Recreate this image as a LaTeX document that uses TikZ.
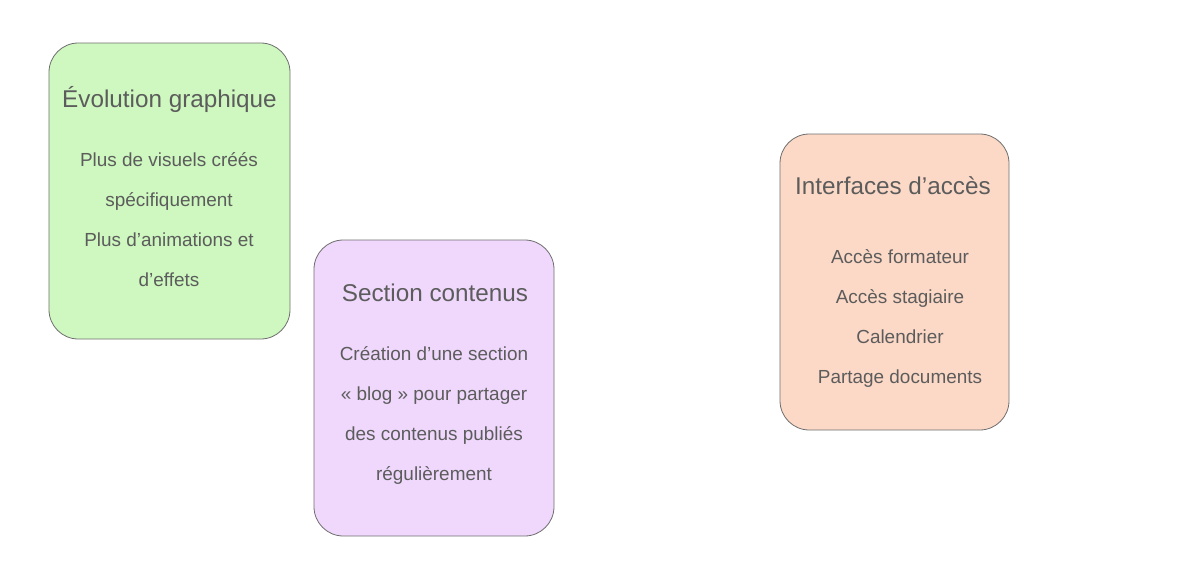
\documentclass[tikz,border=0pt]{standalone}
\usepackage{fontspec}
\setmainfont{Liberation Sans}
\usepackage{xcolor}
\usetikzlibrary{positioning}

\definecolor{textgray}{HTML}{5C5C5C}
\definecolor{edgegray}{HTML}{6E6E6E}
\definecolor{greenfill}{HTML}{CEF8BF}
\definecolor{purplefill}{HTML}{EFD8FC}
\definecolor{orangefill}{HTML}{FCD9C6}

\begin{document}
\begin{tikzpicture}[
          x=0.75pt, y=-0.75pt,
          card/.style={draw=edgegray, line width=0.6pt, rounded corners=22pt,
                       minimum height=222pt, inner sep=0pt},
          title/.style={anchor=base, text=textgray, font=\fontsize{18.2}{21}\selectfont, inner sep=0pt},
          item/.style={anchor=base, text=textgray, font=\fontsize{14.2}{17}\selectfont, inner sep=0pt}
        ]
          \useasboundingbox (0,0) rectangle (1200,565);
          % boxes
          \node[card, fill=greenfill, minimum width=180.75pt] (graph) at (169.5,191) {};
          \node[card, fill=purplefill, minimum width=180pt] (contenus) at (434,388) {};
          \node[card, fill=orangefill, minimum width=171.75pt] (acces) at (894.5,282) {};
          % titles
          \node[title] (graphT) at (169.5,107) {Évolution graphique};
          \node[title] (contenusT) at (435,301) {Section contenus};
          \node[title] (accesT) at (893,194) {Interfaces d’accès};
          % items
          \foreach \t [count=\i] in {{Plus de visuels créés}, {spécifiquement},
              {Plus d’animations et}, {d’effets}}
            \node[item] (graph\i) at (169,126+40*\i) {\t};
          \foreach \t [count=\i] in {{Création d’une section}, {« blog » pour partager},
              {des contenus publiés}, {régulièrement}}
            \node[item] (contenus\i) at (434,320+40*\i) {\t};
          \foreach \t [count=\i] in {{Accès formateur}, {Accès stagiaire},
              {Calendrier}, {Partage documents}}
            \node[item] (acces\i) at (900,223+40*\i) {\t};
        \end{tikzpicture}
\end{document}
